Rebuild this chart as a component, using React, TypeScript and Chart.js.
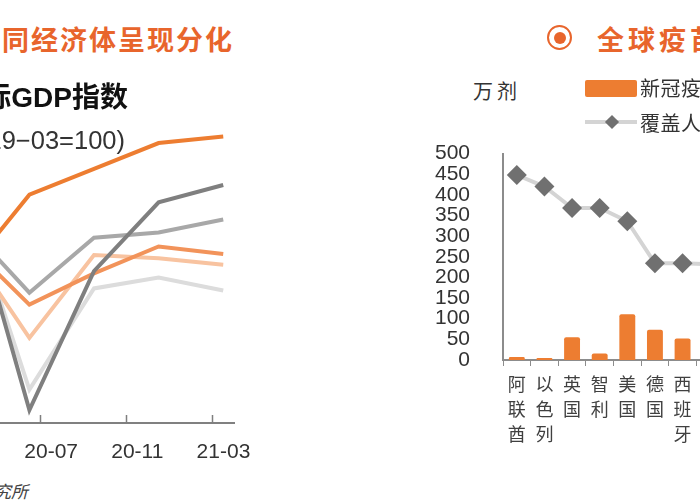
import React, { useEffect, useRef } from 'react';
import { Chart, registerables } from 'chart.js';

Chart.register(...registerables);

// ---------- Left chart: real GDP index (2019-03 = 100) ----------
const gdpPeriods = ['20-03', '20-06', '20-09', '20-12', '21-03'];
const gdpTickLabels = ['20-03', '20-07', '20-11', '21-03'];
const gdpSeriesNames = ['中国', '印度', '美国', '日本', '欧元区', '英国'];
const gdpChina = [93.8, 101.2, 103.6, 106.0, 106.6];
const gdpIndia = [102.4, 81.2, 94.1, 100.5, 102.1];
const gdpUS = [96.9, 91.0, 93.9, 96.4, 95.7];
const gdpJapan = [98.6, 92.1, 97.2, 97.7, 98.9];
const gdpEuro = [96.8, 87.9, 95.6, 95.3, 94.7];
const gdpUK = [101.4, 83.1, 92.5, 93.5, 92.3];

// ---------- Right chart: vaccination ----------
const vaccineCountries = ['阿联酋', '以色列', '英国', '智利', '美国', '德国', '西班牙', '法国'];
const vaccineDoses = [7, 5, 55, 16, 111, 73, 52, 30];
const vaccineCoverage = [448, 420, 368, 368, 336, 234, 234, 232];
const vaccineYTicks = [0, 50, 100, 150, 200, 250, 300, 350, 400, 450, 500];

const LATIN = '"Liberation Sans", "Noto Sans CJK SC", sans-serif';
const CJK = '"Noto Sans CJK SC", "Liberation Sans", sans-serif';

function monthIndex(label: string): number {
  const [yy, mm] = label.split('-').map(Number);
  return (yy - 19) * 12 + mm - 12;
}

const innerTicksPlugin = {
  id: 'innerTicks',
  afterDraw(chart: any) {
    const xs = chart.scales.x;
    const ctx = chart.ctx;
    const bottom = chart.chartArea.bottom;
    ctx.save();
    ctx.strokeStyle = '#7f7f7f';
    ctx.lineWidth = 1.5;
    xs.ticks.forEach((t: any) => {
      const px = Math.round(xs.getPixelForValue(t.value)) + 0.5;
      ctx.beginPath();
      ctx.moveTo(px, bottom - 8);
      ctx.lineTo(px, bottom);
      ctx.stroke();
    });
    ctx.restore();
  },
};

function GdpChart() {
  const ref = useRef<HTMLCanvasElement>(null);
  useEffect(() => {
    const xs = gdpPeriods.map(monthIndex);
    const mk = (vals: number[]) => vals.map((v, i) => ({ x: xs[i], y: v }));
    const series = [
      { data: gdpChina, color: '#ED7D31' },
      { data: gdpIndia, color: '#7F7F7F' },
      { data: gdpUS, color: '#F2935A' },
      { data: gdpJapan, color: '#A8A8A8' },
      { data: gdpEuro, color: '#F8C3A0' },
      { data: gdpUK, color: '#DCDCDC' },
    ];
    const chart = new Chart(ref.current!, {
      type: 'line',
      data: {
        datasets: series.map((s, i) => ({
          label: gdpSeriesNames[i],
          data: mk(s.data),
          borderColor: s.color,
          backgroundColor: s.color,
          borderWidth: 4,
          pointRadius: 0,
          tension: 0,
          fill: false,
        })),
      },
      options: {
        responsive: false,
        animation: false,
        devicePixelRatio: 1,
        layout: { padding: { left: 60, right: 30, top: 0, bottom: 0 } },
        plugins: { legend: { display: false }, tooltip: { enabled: false } },
        scales: {
          x: {
            type: 'linear',
            min: 2.5,
            max: 15.5,
            grid: { display: false },
            border: { display: true, color: '#808080', width: 2 },
            afterBuildTicks: (s: any) => {
              s.ticks = gdpTickLabels.map((l) => ({ value: monthIndex(l) - 0.5 }));
            },
            afterFit: (s: any) => {
              s.height = 50;
            },
            ticks: {
              autoSkip: false,
              maxRotation: 0,
              labelOffset: 11,
              padding: 9,
              color: '#333333',
              font: { family: LATIN, size: 21 },
              callback: (v: any) => {
                const l = gdpTickLabels.find((t) => monthIndex(t) - 0.5 === Number(v));
                return l ?? '';
              },
            },
          },
          y: { display: false, min: 80, max: 110 },
        },
      },
      plugins: [innerTicksPlugin],
    } as any);
    return () => chart.destroy();
  }, []);
  return (
    <canvas
      ref={ref}
      width={370}
      height={373}
      style={{ position: 'absolute', left: -106, top: 100, width: 370, height: 373 }}
    />
  );
}

function VaccineChart() {
  const ref = useRef<HTMLCanvasElement>(null);
  useEffect(() => {
    const chart = new Chart(ref.current!, {
      type: 'bar',
      data: {
        labels: vaccineCountries.map((c) => c.split('')),
        datasets: [
          {
            type: 'line',
            label: '覆盖人群比例',
            data: vaccineCoverage,
            borderColor: '#D4D4D4',
            borderWidth: 4,
            tension: 0,
            pointStyle: 'rectRot',
            pointRadius: 10,
            pointBackgroundColor: '#707070',
            pointBorderColor: '#707070',
            pointBorderWidth: 0,
            order: 1,
          },
          {
            type: 'bar',
            label: '新冠疫苗接种剂次',
            data: vaccineDoses,
            backgroundColor: '#ED7D31',
            borderRadius: 2,
            categoryPercentage: 0.8,
            barPercentage: 0.72,
            order: 2,
          },
        ],
      },
      options: {
        responsive: false,
        animation: false,
        devicePixelRatio: 1,
        layout: { padding: { left: 0, right: 10, top: 20, bottom: 0 } },
        plugins: { legend: { display: false }, tooltip: { enabled: false } },
        scales: {
          x: {
            type: 'category',
            offset: true,
            grid: {
              display: true,
              drawOnChartArea: false,
              drawTicks: true,
              tickLength: 6,
              color: '#8c8c8c',
              lineWidth: 1,
              offset: true,
            },
            border: { display: true, color: '#8c8c8c', width: 2 },
            afterFit: (s: any) => {
              s.height = 100;
            },
            ticks: {
              autoSkip: false,
              maxRotation: 0,
              minRotation: 0,
              padding: 6,
              color: '#404040',
              font: { family: CJK, size: 18, lineHeight: 25 / 18 },
            },
          },
          y: {
            min: 0,
            max: 500,
            grid: { display: false },
            border: { display: true, color: '#8c8c8c', width: 2 },
            afterBuildTicks: (s: any) => {
              s.ticks = vaccineYTicks.map((v) => ({ value: v }));
            },
            afterFit: (s: any) => {
              s.width = 103;
            },
            ticks: {
              autoSkip: false,
              padding: 25,
              color: '#333333',
              font: { family: LATIN, size: 21, lineHeight: 1 },
            },
          },
        },
      },
    } as any);
    return () => chart.destroy();
  }, []);
  return (
    <canvas
      ref={ref}
      width={334}
      height={342}
      style={{ position: 'absolute', left: 400, top: 118, width: 334, height: 342 }}
    />
  );
}

const abs = (s: React.CSSProperties): React.CSSProperties => ({
  position: 'absolute',
  whiteSpace: 'nowrap',
  lineHeight: 1,
  margin: 0,
  ...s,
});

export default function App() {
  return (
    <div
      style={{
        position: 'fixed',
        left: 0,
        top: 0,
        width: 700,
        height: 500,
        overflow: 'hidden',
        background: '#ffffff',
        fontFamily: CJK,
      }}
    >
      <GdpChart />
      <VaccineChart />

      {/* left titles */}
      <div style={abs({ right: 466, top: 25, fontSize: 27, fontWeight: 700, letterSpacing: 2, color: '#E8652C' })}>
        不同经济体呈现分化
      </div>
      <div style={abs({ right: 572, top: 84, fontSize: 28, fontWeight: 700, color: '#111111', fontFamily: LATIN })}>
        实际GDP指数
      </div>
      <div style={abs({ right: 575, top: 128, fontSize: 25.5, color: '#333333', fontFamily: LATIN })}>
        (2019−03=100)
      </div>
      <div style={abs({ right: 672, top: 482, fontSize: 17, color: '#444444', fontStyle: 'italic' })}>
        研究所
      </div>

      {/* right titles */}
      <div
        style={abs({
          left: 547,
          top: 25,
          width: 21,
          height: 21,
          border: '2px solid #E8652C',
          borderRadius: '50%',
        })}
      />
      <div
        style={abs({
          left: 554,
          top: 32,
          width: 12,
          height: 12,
          background: '#E8652C',
          borderRadius: '50%',
        })}
      />
      <div style={abs({ left: 597, top: 25, fontSize: 27, fontWeight: 700, letterSpacing: 4, color: '#E8652C' })}>
        全球疫苗接种进度
      </div>
      <div style={abs({ left: 473, top: 81, fontSize: 20, letterSpacing: 4, color: '#333333' })}>万剂</div>

      {/* legend */}
      <div style={abs({ left: 585, top: 80, width: 52, height: 17, background: '#ED7D31', borderRadius: 2 })} />
      <div style={abs({ left: 640, top: 78, fontSize: 20, letterSpacing: 0.5, color: '#333333' })}>
        新冠疫苗接种剂次
      </div>
      <div style={abs({ left: 585, top: 120, width: 52, height: 4, background: '#D4D4D4' })} />
      <div
        style={abs({
          left: 607,
          top: 117,
          width: 10,
          height: 10,
          background: '#707070',
          transform: 'rotate(45deg)',
        })}
      />
      <div style={abs({ left: 640, top: 113, fontSize: 20, letterSpacing: 0.5, color: '#333333' })}>
        覆盖人群比例
      </div>
    </div>
  );
}
